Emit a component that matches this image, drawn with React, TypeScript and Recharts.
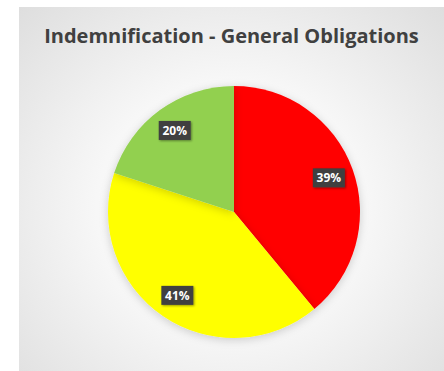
import React from 'react';
import { PieChart, Pie, Cell } from 'recharts';

const categories = ['Red', 'Yellow', 'Green'];
const shares = [39, 41, 20];
const colors = ['#FF0000', '#FFFF00', '#92D050'];

const data = categories.map((name, i) => ({ name, value: shares[i] }));

const RAD = Math.PI / 180;

const renderLabel = (props: any) => {
  const { cx, cy, midAngle, outerRadius, value } = props;
  const r = outerRadius * 0.8;
  const x = cx + r * Math.cos(-midAngle * RAD);
  const y = cy + r * Math.sin(-midAngle * RAD);
  const w = 32;
  const h = 19;
  return (
    <g>
      <rect
        x={x - w / 2}
        y={y - h / 2}
        width={w}
        height={h}
        fill="#404040"
        filter="url(#boxShadow)"
      />
      <text
        x={x}
        y={y}
        dy={4.5}
        textAnchor="middle"
        fill="#ffffff"
        fontSize={12}
        fontWeight="bold"
        fontFamily="'Open Sans', sans-serif"
      >
        {`${value}%`}
      </text>
    </g>
  );
};

const App = () => {
  return (
    <div
      style={{
        position: 'absolute',
        left: 0,
        top: 0,
        width: 444,
        height: 371,
        background: '#ffffff',
        overflow: 'hidden',
      }}
    >
      <div
        style={{
          position: 'absolute',
          left: 19,
          top: 7,
          width: 425,
          height: 364,
          background:
            'radial-gradient(ellipse at 50% 55%, #ffffff 0%, #f7f7f7 45%, #dedede 100%)',
        }}
      >
        <div
          style={{
            position: 'absolute',
            left: 0,
            top: 15,
            width: 425,
            textAlign: 'center',
            fontFamily: "'Open Sans', sans-serif",
            fontWeight: 'bold',
            fontSize: 20,
            color: '#404040',
          }}
        >
          Indemnification - General Obligations
        </div>
        <div style={{ position: 'absolute', left: 0, top: 0 }}>
          <PieChart width={425} height={364} margin={{ top: 0, right: 0, bottom: 0, left: 0 }}>
            <defs>
              <filter id="pieShadow" x="-20%" y="-20%" width="140%" height="140%">
                <feDropShadow dx="0" dy="2" stdDeviation="4" floodColor="#000" floodOpacity="0.18" />
              </filter>
              <filter id="boxShadow" x="-30%" y="-30%" width="160%" height="160%">
                <feDropShadow dx="1" dy="1" stdDeviation="1" floodColor="#000" floodOpacity="0.4" />
              </filter>
            </defs>
            <Pie
              data={data}
              dataKey="value"
              cx={215}
              cy={205}
              outerRadius={126}
              startAngle={90}
              endAngle={-270}
              stroke="none"
              label={renderLabel}
              labelLine={false}
              isAnimationActive={false}
              style={{ filter: 'url(#pieShadow)' }}
            >
              {data.map((entry, index) => (
                <Cell key={`cell-${index}`} fill={colors[index]} />
              ))}
            </Pie>
          </PieChart>
        </div>
      </div>
    </div>
  );
};

export default App;
